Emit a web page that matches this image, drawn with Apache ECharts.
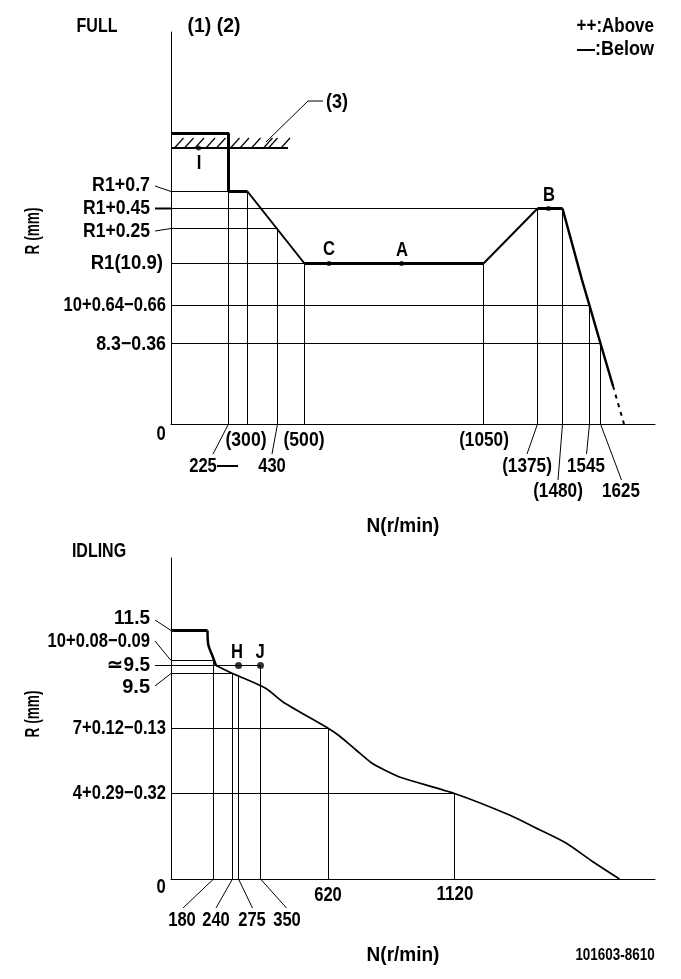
<!DOCTYPE html>
<html>
<head>
<meta charset="utf-8">
<script src="https://cdn.jsdelivr.net/npm/echarts@6/dist/echarts.min.js"></script>
<style>
html,body{margin:0;padding:0;background:#fff;}
#main{width:681px;height:979px;}
</style>
</head>
<body>
<div id="main"></div>
<script>
// The drawing is schematic: its N and R axes are not to scale, so positions
// are in axis units read off the picture and the printed values are labels.

// FULL chart
var fullNLabels = ['225', '(300)', '430', '(500)', '(1050)', '(1375)', '(1480)', '1545', '1625'];
var fullNPos = [57.5, 76.5, 106.5, 133.5, 312.5, 366.5, 391.5, 418.5, 429.5];
var fullNTop = [290.5, 232.5, 195.5, 160.5, 160.5, 215.5, 215.5, 118.5, 80.5];
var fullRLabels = ['R1+0.7', 'R1+0.45', 'R1+0.25', 'R1(10.9)', '10+0.64−0.66', '8.3−0.36'];
var fullRPos = [232.5, 215.5, 195.5, 160.5, 118.5, 80.5];
var fullREnd = [57.5, 366.5, 106.5, 133.5, 418.5, 429.5];
var fullStop = [[0, 290.5], [57.5, 290.5], [57.5, 232.5], [76.5, 232.5]];
var fullRamp = [[76.5, 232.5], [133.5, 160.5]];
var fullFlat = [[133.5, 160.5], [312.5, 160.5]];
var fullRise = [[312.5, 160.5], [366.5, 215.5]];
var fullTop = [[366.5, 215.5], [391.5, 215.5]];
var fullFall = [[391.5, 215.5], [411, 144], [418.5, 118.5], [429.5, 80.5], [442, 38]];
var fullFallDashed = [[442, 38], [453, 0]];
var fullStopLine = [[0, 276], [117, 276]];
var fullHatch = [3.5, 13.5, 24, 35, 45.5, 59.5, 69, 80.5, 92.5, 97.5, 110];
var fullPoints = [['I', 27.5, 276], ['C', 158, 160.5], ['A', 230.5, 160.5], ['B', 377.5, 215.5]];

// IDLING chart
var idleNLabels = ['180', '240', '275', '350', '620', '1120'];
var idleNPos = [42.5, 61.5, 67.5, 89.5, 157.5, 283.5];
var idleNTop = [218.5, 205.5, 203.5, 213.5, 150.5, 85.5];
var idleRLabels = ['11.5', '10+0.08−0.09', '≃9.5', '9.5', '7+0.12−0.13', '4+0.29−0.32'];
var idleRPos = [248.5, 218.5, 213.5, 205.5, 150.5, 85.5];
var idleREnd = [0, 42.5, 89.5, 61.5, 157.5, 283.5];
var idleStop = [[0, 248.5], [36.5, 248.5]];
var idleDrop = [[36.5, 248.5], [37, 236], [41.5, 223], [45, 213.5]];
var idleCurve = [[45, 213.5], [61.5, 205.5], [67.5, 203], [95, 190.5], [112, 177], [157.5, 150.5], [168.5, 143], [185, 129], [200, 116.5], [213.5, 109], [230, 101.5], [283.5, 85.5], [338.5, 64], [365, 51], [395, 36], [421.5, 17.5], [448.5, 0]];
var idlePoints = [['H', 67.5, 213.5], ['J', 89.5, 213.5]];

var labelFont = 'bold 20px "Liberation Sans", sans-serif';
var smallFont = 'bold 16px "Liberation Sans", sans-serif';

function curve(data, width, idx, dash, smooth) {
    return {
        type: 'line', data: data, xAxisIndex: idx, yAxisIndex: idx,
        symbol: 'none', silent: true, clip: false, smooth: smooth || false,
        lineStyle: {color: '#000', width: width, type: dash || 'solid'}
    };
}

function guides(nPos, nTop, rPos, rEnd, idx) {
    var segs = [];
    nPos.forEach(function (x, i) { segs.push([[x, 0], [x, nTop[i]]]); });
    rPos.forEach(function (y, i) {
        if (rEnd[i] > 0) segs.push([[0, y], [rEnd[i], y]]);
    });
    return segs.map(function (s) { return curve(s, 1, idx); });
}

function dots(points, size, idx) {
    return {
        type: 'scatter', xAxisIndex: idx, yAxisIndex: idx, silent: true, symbolSize: size,
        itemStyle: {color: '#000'},
        data: points.map(function (p) { return [p[1], p[2]]; })
    };
}

// sx squeezes the glyphs sideways, the reference font is a condensed one
function text(str, x, y, align, sx, font) {
    return {
        type: 'text', silent: true, x: x, y: y, scaleX: sx || 0.83,
        style: {text: str, font: font || labelFont, fill: '#000', align: align || 'center', verticalAlign: 'middle'}
    };
}

function vtext(str, x, y) {
    var t = text(str, x, y, 'center', 0.68, labelFont);
    t.rotation = Math.PI / 2;
    return t;
}

function line(x1, y1, x2, y2, w) {
    return {
        type: 'line', silent: true,
        shape: {x1: x1, y1: y1, x2: x2, y2: y2},
        style: {stroke: '#000', lineWidth: w || 1}
    };
}

var series = [];
series = series.concat(guides(fullNPos, fullNTop, fullRPos, fullREnd, 0));
series = series.concat(guides(idleNPos, idleNTop, idleRPos, idleREnd, 1));
series.push(curve(fullStopLine, 2, 0));
fullHatch.forEach(function (x) { series.push(curve([[x, 276], [x + 9, 286]], 1.2, 0)); });
series.push(curve(fullStop, 3, 0));
series.push(curve(fullRamp, 2, 0));
series.push(curve(fullFlat, 3, 0));
series.push(curve(fullRise, 2, 0));
series.push(curve(fullTop, 3, 0));
series.push(curve(fullFall, 2.5, 0));
series.push(curve(fullFallDashed, 2, 0, [4, 5]));
series.push(curve(idleStop, 3, 1));
series.push(curve(idleDrop, 2.5, 1, null, 0.4));
series.push(curve(idleCurve, 1.7, 1, null, 0.25));
series.push(dots(fullPoints, 5, 0));
series.push(dots(idlePoints, 7, 1));

var notes = [
    // titles and legend
    text('FULL', 97, 26, 'center', 0.8),
    text('(1) (2)', 214, 26, 'center', 0.97),
    text('++:Above', 654, 26, 'right', 0.85),
    text('—:Below', 654, 49, 'right', 0.9),
    text('(3)', 337, 102, 'center', 0.9),
    vtext('R (mm)', 33, 231),
    text('N(r/min)', 403, 526, 'center', 0.95),
    text('0', 161, 434),
    text('IDLING', 99, 551, 'center', 0.8),
    vtext('R (mm)', 33, 714),
    text('N(r/min)', 403, 955, 'center', 0.95),
    text('0', 161, 887),
    text('101603-8610', 615, 956, 'center', 0.84, smallFont),
    // FULL R labels
    text(fullRLabels[0], 150, 185, 'right', 0.89),
    text(fullRLabels[1], 150, 208, 'right', 0.88),
    text(fullRLabels[2], 150, 231, 'right', 0.88),
    text(fullRLabels[3], 163, 263, 'right', 0.93),
    text(fullRLabels[4], 166, 305, 'right', 0.83),
    text(fullRLabels[5], 166, 344, 'right', 0.89),
    // FULL N labels
    text(fullNLabels[0], 203, 466),
    text(fullNLabels[1], 246, 440, 'center', 0.88),
    text(fullNLabels[2], 272, 466),
    text(fullNLabels[3], 304, 440, 'center', 0.88),
    text(fullNLabels[4], 484, 440, 'center', 0.86),
    text(fullNLabels[5], 527, 466, 'center', 0.86),
    text(fullNLabels[6], 558, 491, 'center', 0.86),
    text(fullNLabels[7], 586, 466, 'center', 0.85),
    text(fullNLabels[8], 621, 491, 'center', 0.85),
    // point letters
    text(fullPoints[0][0], 199, 163),
    text(fullPoints[1][0], 329, 249),
    text(fullPoints[2][0], 402, 250),
    text(fullPoints[3][0], 549, 195),
    text(idlePoints[0][0], 237, 652),
    text(idlePoints[1][0], 260, 652),
    // IDLING R labels
    text(idleRLabels[0], 150, 618, 'right', 0.95),
    text(idleRLabels[1], 150, 641, 'right', 0.83),
    text(idleRLabels[2], 150, 665, 'right', 0.95),
    text(idleRLabels[3], 150, 687, 'right', 1),
    text(idleRLabels[4], 166, 728, 'right', 0.83),
    text(idleRLabels[5], 166, 793, 'right', 0.83),
    // IDLING N labels
    text(idleNLabels[0], 182, 920),
    text(idleNLabels[1], 216, 920),
    text(idleNLabels[2], 252, 920),
    text(idleNLabels[3], 287, 920),
    text(idleNLabels[4], 328, 895),
    text(idleNLabels[5], 455, 894, 'center', 0.85),
    // leaders, FULL
    line(155, 186, 171, 191.5),
    line(155, 208.5, 171, 208.5, 2),
    line(155, 231, 171, 228.5),
    line(228.5, 424, 213, 454),
    line(217, 466, 238, 466, 2),
    line(277.5, 424, 272, 454),
    line(537.5, 424, 527, 454),
    line(562.5, 424, 558, 480),
    line(589.5, 424, 586.5, 454),
    line(600.5, 424, 621.5, 480),
    line(266, 142, 308, 101),
    line(308, 101, 323, 101),
    // leaders, IDLING
    line(155, 620, 171, 630.5),
    line(155, 641, 171, 660.5),
    line(155, 665.5, 171, 665.5),
    line(155, 686, 171, 673.5),
    line(213.5, 879, 183, 908),
    line(232.5, 879, 216, 908),
    line(238.5, 879, 252.5, 908),
    line(260.5, 879, 286.5, 908)
];

function axisX(idx, max) {
    return {
        type: 'value', gridIndex: idx, min: 0, max: max,
        axisLine: {onZero: false, lineStyle: {color: '#000', width: 1}},
        axisTick: {show: false}, axisLabel: {show: false}, splitLine: {show: false}
    };
}

var chart = echarts.init(document.getElementById('main'), null, {renderer: 'canvas'});
chart.setOption({
    animation: false,
    backgroundColor: '#fff',
    grid: [
        {left: 171, top: 32, width: 484, height: 392},
        {left: 171, top: 558, width: 484, height: 321}
    ],
    xAxis: [axisX(0, 484), axisX(1, 484)],
    yAxis: [axisX(0, 392), axisX(1, 321)],
    graphic: notes,
    series: series
});
</script>
</body>
</html>
